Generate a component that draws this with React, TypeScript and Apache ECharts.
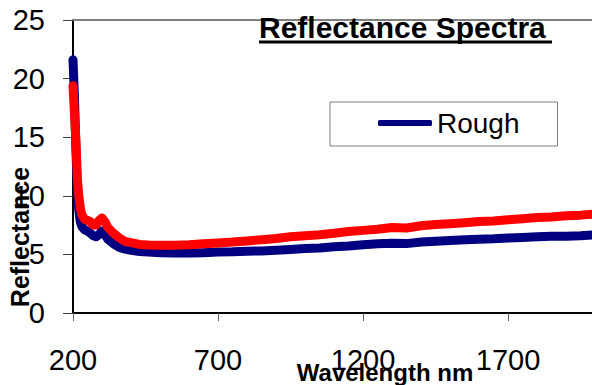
import React, { useEffect, useRef } from "react";
import * as echarts from "echarts";

const wavelengths = [
  200, 205, 210, 215, 220, 225, 230, 240, 250, 260, 270, 280, 290, 300, 310, 320,
  340, 360, 380, 400, 430, 460, 500, 550, 600, 650, 700, 750, 800, 850, 900, 950,
  1000, 1050, 1100, 1150, 1200, 1250, 1300, 1350, 1400, 1450, 1500, 1550, 1600,
  1650, 1700, 1750, 1800, 1850, 1900, 1950, 2000,
];

const roughReflectance = [
  21.6, 18.5, 14.0, 10.5, 8.8, 7.8, 7.4, 7.1, 7.0, 6.8, 6.6, 6.5, 6.7, 7.0, 6.7, 6.3,
  5.9, 5.6, 5.45, 5.35, 5.25, 5.2, 5.15, 5.12, 5.12, 5.15, 5.2, 5.22, 5.27, 5.3, 5.35, 5.42,
  5.5, 5.55, 5.65, 5.72, 5.82, 5.9, 5.95, 5.92, 6.05, 6.12, 6.18, 6.25, 6.3,
  6.33, 6.4, 6.45, 6.5, 6.55, 6.55, 6.6, 6.68,
];

const secondReflectance = [
  19.4, 17.0, 14.8, 11.5, 10.0, 9.0, 8.4, 8.0, 7.9, 7.8, 7.5, 7.5, 7.9, 8.1, 7.8, 7.3,
  6.8, 6.4, 6.1, 6.0, 5.85, 5.8, 5.78, 5.78, 5.82, 5.9, 5.98, 6.05, 6.15, 6.25, 6.35, 6.5,
  6.6, 6.68, 6.8, 6.95, 7.05, 7.15, 7.3, 7.25, 7.45, 7.55, 7.62, 7.7, 7.8,
  7.85, 7.95, 8.05, 8.15, 8.2, 8.3, 8.35, 8.45,
];

const xTickLabels = [200, 700, 1200, 1700];
const yTicks = { min: 0, max: 25, interval: 5 };

const FONT = "'Liberation Sans', Arial, sans-serif";

export default function App() {
  const ref = useRef<HTMLDivElement>(null);

  useEffect(() => {
    document.body.style.margin = "0";
    if (!ref.current) return;
    const chart = echarts.init(ref.current, null, { renderer: "svg" });
    const rough = wavelengths.map((w, i) => [w, roughReflectance[i]]);
    const second = wavelengths.map((w, i) => [w, secondReflectance[i]]);

    chart.setOption({
      animation: false,
      backgroundColor: "#ffffff",
      textStyle: { fontFamily: FONT },
      title: {
        text: "Reflectance Spectra",
        left: 259,
        top: 12,
        padding: 0,
        textStyle: { fontSize: 30, fontWeight: "bold", color: "#000", fontFamily: FONT },
      },
      legend: {
        data: ["Rough"],
        left: 330,
        top: 102,
        orient: "horizontal",
        padding: [7, 38, 9, 48],
        borderColor: "#808080",
        borderWidth: 1,
        backgroundColor: "#fff",
        icon: "roundRect",
        itemWidth: 54,
        itemHeight: 6,
        textStyle: { fontSize: 28, color: "#000", fontFamily: FONT, lineHeight: 28 },
      },
      grid: {
        left: 73,
        top: 20,
        right: -3,
        bottom: 72,
        containLabel: false,
        outerBoundsMode: "none",
      },
      xAxis: [
        {
          type: "value",
          min: 200,
          max: 2000,
          name: "Wavelength nm",
          nameLocation: "middle",
          nameGap: 47,
          nameMoveOverlap: false,
          nameTextStyle: {
            fontSize: 24,
            fontWeight: "bold",
            color: "#000",
            fontFamily: FONT,
            padding: [0, 0, 0, 102],
          },
          axisLine: { show: true, lineStyle: { color: "#000", width: 2 } },
          axisTick: {
            show: true,
            length: 8,
            customValues: xTickLabels,
            lineStyle: { color: "#606060", width: 1 },
          },
          axisLabel: {
            customValues: xTickLabels,
            formatter: (v: number) => String(v),
            margin: 32,
            fontSize: 29,
            color: "#000",
            fontFamily: FONT,
          },
          splitLine: { show: false },
        },
        {
          type: "value",
          position: "top",
          min: 200,
          max: 2000,
          axisLine: { show: true, lineStyle: { color: "#808080", width: 2 } },
          axisTick: { show: false },
          axisLabel: { show: false },
          splitLine: { show: false },
        },
      ],
      yAxis: {
        type: "value",
        min: yTicks.min,
        max: yTicks.max,
        interval: yTicks.interval,
        name: "Reflectance",
        nameLocation: "middle",
        nameRotate: 90,
        nameGap: 41,
        nameMoveOverlap: false,
        nameTextStyle: {
          fontSize: 25,
          fontWeight: "bold",
          color: "#000",
          fontFamily: FONT,
          padding: [0, 141, 0, 0],
        },
        axisLine: { show: true, lineStyle: { color: "#000", width: 2 } },
        axisTick: { show: true, length: 10, lineStyle: { color: "#404040", width: 1 } },
        axisLabel: { margin: 28, fontSize: 29, color: "#000", fontFamily: FONT },
        splitLine: { show: false },
      },
      graphic: [
        {
          type: "rect",
          shape: { x: 259, y: 40.5, width: 293, height: 3 },
          style: { fill: "#000" },
          silent: true,
        },
      ],
      series: [
        {
          name: "Rough",
          type: "line",
          data: rough,
          showSymbol: false,
          symbol: "none",
          color: "#000080",
          lineStyle: { color: "#000080", width: 9, join: "round", cap: "round" },
          z: 2,
        },
        {
          name: "Second sample",
          type: "line",
          data: second,
          showSymbol: false,
          symbol: "none",
          color: "#ff0000",
          lineStyle: { color: "#ff0000", width: 9, join: "round", cap: "round" },
          z: 3,
        },
      ],
    });
    return () => chart.dispose();
  }, []);

  return <div ref={ref} style={{ width: 592, height: 385 }} />;
}
